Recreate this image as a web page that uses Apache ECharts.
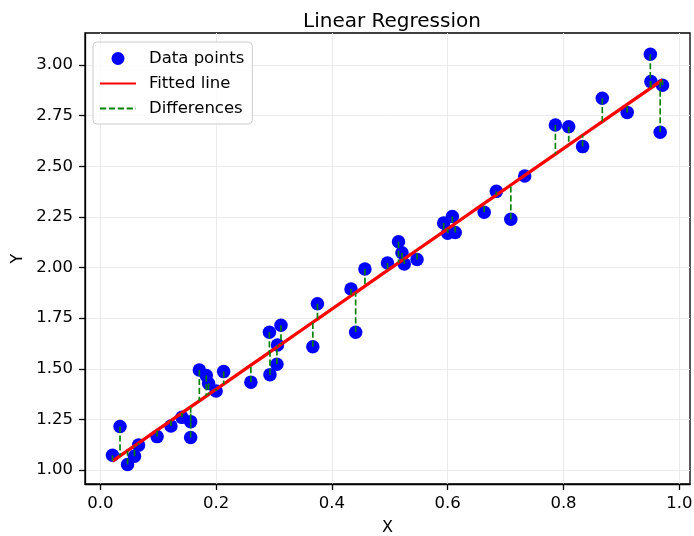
<!DOCTYPE html>
<html><head><meta charset="utf-8">
<script src="https://cdn.jsdelivr.net/npm/echarts@6/dist/echarts.min.js"></script>
<style>html,body{margin:0;padding:0;background:#fff}#c{width:694px;height:536px}</style>
</head><body><div id="c"></div>
<script>
const xValues = [0.021,0.034,0.047,0.059,0.066,0.098,0.122,0.141,0.156,0.156,
  0.171,0.183,0.187,0.200,0.213,0.260,0.292,0.293,0.305,0.306,
  0.312,0.367,0.375,0.433,0.441,0.457,0.496,0.515,0.521,0.525,
  0.547,0.593,0.600,0.608,0.613,0.663,0.684,0.709,0.733,0.786,
  0.809,0.833,0.867,0.910,0.950,0.951,0.967,0.971];
const yValues = [1.073,1.215,1.027,1.068,1.123,1.165,1.217,1.260,1.239,1.161,
  1.494,1.467,1.427,1.390,1.486,1.434,1.680,1.471,1.522,1.617,
  1.715,1.609,1.821,1.894,1.680,1.993,2.022,2.127,2.073,2.017,
  2.040,2.220,2.169,2.252,2.173,2.273,2.376,2.238,2.452,2.704,
  2.695,2.597,2.836,2.766,3.053,2.918,2.668,2.900];
const xTicks = [0.0,0.2,0.4,0.6,0.8,1.0];
const yTicks = [1.00,1.25,1.50,1.75,2.00,2.25,2.50,2.75,3.00];
const seriesNames = ['Data points','Fitted line','Differences'];
const titleText = 'Linear Regression';

// ordinary least squares fit of the data
const n = xValues.length;
const mx = xValues.reduce((a,b)=>a+b,0)/n;
const my = yValues.reduce((a,b)=>a+b,0)/n;
let sxy=0, sxx=0;
for (let i=0;i<n;i++){ sxy+=(xValues[i]-mx)*(yValues[i]-my); sxx+=(xValues[i]-mx)**2; }
const slope = sxy/sxx, intercept = my - slope*mx;
const yFit = xValues.map(x => intercept + slope*x);

const scatterData = xValues.map((x,i)=>[x,yValues[i]]);
const fitData = xValues.map((x,i)=>[x,yFit[i]]);
const diffData = [];
xValues.forEach((x,i)=>{ diffData.push([x,yValues[i]],[x,yFit[i]],[x,'-']); });

const FONT = 'DejaVu Sans';
const chart = echarts.init(document.getElementById('c'), null, {renderer:'canvas'});
chart.setOption({
  animation:false,
  backgroundColor:'#ffffff',
  title:{text:titleText,left:298,top:7,textStyle:{fontFamily:FONT,fontSize:20,fontWeight:'normal',color:'#000'}},
  grid:{left:85,right:4,top:33,bottom:52,outerBoundsMode:'none',containLabel:false,
    show:true,borderColor:'#000',borderWidth:1.3,backgroundColor:'transparent'},
  legend:{
    data:[
      {name:seriesNames[0]},
      {name:seriesNames[1],itemStyle:{opacity:0}},
      {name:seriesNames[2],itemStyle:{opacity:0}}
    ],
    orient:'vertical', left:93, top:42,
    padding:[8,8,7,6], itemGap:8, itemWidth:36, itemHeight:13,
    backgroundColor:'rgba(255,255,255,0.8)', borderColor:'#cccccc', borderWidth:1, borderRadius:4,
    textStyle:{fontFamily:FONT,fontSize:16.5,color:'#000',padding:[0,0,0,8]}
  },
  xAxis:{
    type:'value', min:-0.0265, max:1.0185,
    name:'X', nameLocation:'middle', nameGap:36,
    nameTextStyle:{fontFamily:FONT,fontSize:16,color:'#000'},
    axisLine:{show:true,onZero:false,lineStyle:{color:'#000',width:1.3}},
    axisTick:{show:true,customValues:xTicks,length:6,lineStyle:{color:'#000',width:1.3}},
    axisLabel:{customValues:xTicks,formatter:v=>v.toFixed(1),fontFamily:FONT,fontSize:16.5,color:'#000',margin:11},
    splitLine:{show:true,lineStyle:{color:'#ebebeb',width:1}}
  },
  yAxis:{
    type:'value', min:0.931, max:3.158,
    name:'Y', nameLocation:'middle', nameGap:59,
    nameTextStyle:{fontFamily:FONT,fontSize:16,color:'#000'},
    axisLine:{show:true,onZero:false,lineStyle:{color:'#000',width:1.3}},
    axisTick:{show:true,customValues:yTicks,length:6,lineStyle:{color:'#000',width:1.3}},
    axisLabel:{customValues:yTicks,formatter:v=>v.toFixed(2),fontFamily:FONT,fontSize:16.5,color:'#000',margin:12},
    splitLine:{show:true,lineStyle:{color:'#ebebeb',width:1}}
  },
  series:[
    {name:seriesNames[0],type:'scatter',data:scatterData,symbol:'circle',symbolSize:13.5,
      itemStyle:{color:'#0000ff',opacity:1},z:2},
    {name:seriesNames[1],type:'line',data:fitData,showSymbol:false,symbol:'none',
      lineStyle:{color:'#ff0000',width:3.3},itemStyle:{color:'#ff0000'},z:3},
    {name:seriesNames[2],type:'line',data:diffData,showSymbol:false,symbol:'none',connectNulls:false,
      lineStyle:{color:'#008000',width:1.67,type:[6.2,2.7]},itemStyle:{color:'#008000'},z:4}
  ]
});
</script></body></html>
